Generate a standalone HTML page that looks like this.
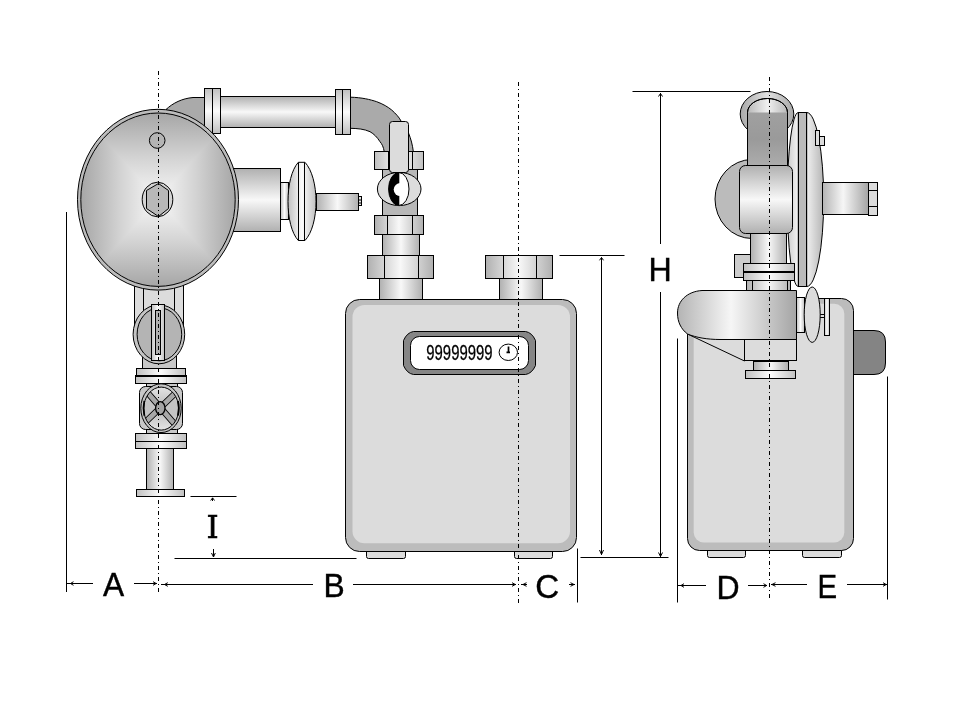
<!DOCTYPE html>
<html>
<head>
<meta charset="utf-8">
<title>Gas meter dimensions</title>
<style>
html,body{margin:0;padding:0;background:#fff;}
body{width:960px;height:720px;overflow:hidden;position:relative;}
svg{display:block;position:absolute;left:0;top:0;will-change:transform;}
.l{stroke:#000;stroke-width:1;fill:none;}
.s{stroke:#000;stroke-width:1;}
.k{stroke:#000;stroke-width:1.8;fill:none;}
.cl{stroke:#000;stroke-width:1;fill:none;stroke-dasharray:4 3 1 3;}
.ar{stroke:#000;stroke-width:1;fill:none;}
.t{font-family:"Liberation Sans",sans-serif;font-size:32px;fill:#000;stroke:#000;stroke-width:0.4px;}
.ti{font-family:"DejaVu Serif","Liberation Serif",serif;font-size:30.8px;fill:#000;stroke:#000;stroke-width:0.6px;}
.tn{font-family:"Liberation Sans",sans-serif;font-size:22.3px;fill:#000;stroke:#000;stroke-width:0.3px;}
</style>
</head>
<body>
<svg width="960" height="720" viewBox="0 0 960 720">
<defs>
<!-- horizontal pipe (gradient runs vertically) -->
<linearGradient id="gh" x1="0" y1="0" x2="0" y2="1">
<stop offset="0" stop-color="#b0b0b0"/><stop offset="0.5" stop-color="#f8f8f8"/><stop offset="1" stop-color="#b0b0b0"/>
</linearGradient>
<!-- vertical pipe (gradient runs horizontally) -->
<linearGradient id="gv" x1="0" y1="0" x2="1" y2="0">
<stop offset="0" stop-color="#b0b0b0"/><stop offset="0.5" stop-color="#f8f8f8"/><stop offset="1" stop-color="#b0b0b0"/>
</linearGradient>
<!-- lighter flange gradients -->
<linearGradient id="fh" x1="0" y1="0" x2="0" y2="1">
<stop offset="0" stop-color="#c0c0c0"/><stop offset="0.5" stop-color="#fcfcfc"/><stop offset="1" stop-color="#c0c0c0"/>
</linearGradient>
<linearGradient id="fv" x1="0" y1="0" x2="1" y2="0">
<stop offset="0" stop-color="#c0c0c0"/><stop offset="0.5" stop-color="#fcfcfc"/><stop offset="1" stop-color="#c0c0c0"/>
</linearGradient>
<!-- side-view horizontal pipe -->
<linearGradient id="gv2" x1="0" y1="0" x2="1" y2="0">
<stop offset="0" stop-color="#b4b4b4"/><stop offset="0.45" stop-color="#f6f6f6"/><stop offset="1" stop-color="#a4a4a4"/>
</linearGradient>
<!-- dark elbow pipe in side view -->
<linearGradient id="gd" x1="0" y1="0" x2="0" y2="1">
<stop offset="0" stop-color="#a0a0a0"/><stop offset="0.5" stop-color="#9a9a9a"/><stop offset="1" stop-color="#acacac"/>
</linearGradient>
<linearGradient id="gcap" x1="0" y1="0" x2="1" y2="0">
<stop offset="0" stop-color="#b8b8b8"/><stop offset="0.5" stop-color="#f0f0f0"/><stop offset="1" stop-color="#b8b8b8"/>
</linearGradient>
<linearGradient id="gring" x1="0" y1="0" x2="1" y2="0">
<stop offset="0" stop-color="#a8a8a8"/><stop offset="0.5" stop-color="#e2e2e2"/><stop offset="1" stop-color="#a8a8a8"/>
</linearGradient>
<linearGradient id="gdiscl" x1="0" y1="0" x2="1" y2="0">
<stop offset="0" stop-color="#cccccc"/><stop offset="1" stop-color="#f4f4f4"/>
</linearGradient>
<linearGradient id="gdisc" x1="0" y1="0" x2="1" y2="0">
<stop offset="0" stop-color="#f0f0f0"/><stop offset="1" stop-color="#b4b4b4"/>
</linearGradient>
<linearGradient id="rV" x1="0" y1="0" x2="0" y2="1"><stop offset="0" stop-color="#a6a6a6"/><stop offset="0.25" stop-color="#d2d2d2"/><stop offset="0.5" stop-color="#f8f8f8"/><stop offset="0.75" stop-color="#d2d2d2"/><stop offset="1" stop-color="#a6a6a6"/></linearGradient>
<linearGradient id="rH" gradientUnits="userSpaceOnUse" x1="80.800" y1="0" x2="235.200" y2="0"><stop offset="0" stop-color="#a6a6a6"/><stop offset="0.25" stop-color="#d2d2d2"/><stop offset="0.5" stop-color="#f8f8f8"/><stop offset="0.75" stop-color="#d2d2d2"/><stop offset="1" stop-color="#a6a6a6"/></linearGradient>
<linearGradient id="gsec" x1="0" y1="0" x2="0" y2="1"><stop offset="0" stop-color="#e4e4e4"/><stop offset="0.5" stop-color="#b8b8b8"/><stop offset="1" stop-color="#e4e4e4"/></linearGradient>
<clipPath id="regclip"><ellipse cx="158" cy="199.700" rx="77.200" ry="86.700"/></clipPath>
<clipPath id="wheelclip"><ellipse cx="161.200" cy="408.600" rx="17.500" ry="21.500"/></clipPath>
<clipPath id="ballclip"><ellipse cx="398.800" cy="189" rx="10.200" ry="16.500"/></clipPath>
</defs>

<!-- ================= FRONT VIEW ================= -->
<g id="front">
<!-- top-left elbow -->
<path class="s" fill="#aaa" d="M205 97.500 L193 97.500 C182 98.500 173 103 166 109.500 L215 150 L205 128 Z"/>
<!-- top-right elbow -->
<path class="s" fill="#aaa" d="M350.500 97.200 C362 97.500 370 99.500 376.700 101.700 C383 104 388 107 391.700 110 C396 114 399 117 401 121 L408.500 133 C411 139 412.500 145 413.300 151.500 L384.200 151.500 C383.500 147 382 144 380 141.700 C377 137 374 134 370 131.700 C364 129 358 128.500 350.500 128.300 Z"/>
<!-- top horizontal pipe -->
<rect class="s" fill="url(#gh)" x="220.5" y="96.5" width="115" height="31"/>
<rect class="s" fill="url(#fh)" x="204.5" y="88.5" width="16" height="45"/>
<line class="l" x1="212.5" y1="88.5" x2="212.5" y2="133.5"/>
<rect class="s" fill="url(#fh)" x="335.5" y="89.5" width="15" height="45"/>
<line class="l" x1="342.5" y1="89.5" x2="342.5" y2="134.5"/>

<!-- right block of regulator -->
<rect class="s" fill="url(#gh)" x="230.5" y="168.5" width="50" height="63"/>
<rect class="s" fill="url(#fv)" x="280.5" y="182.5" width="8" height="37"/>
<rect class="s" fill="url(#gv)" x="316.5" y="193.5" width="42" height="17"/>
<rect class="s" fill="#e4e4e4" x="358.5" y="196.5" width="3" height="9"/>
<path class="l" d="M358.700 200 H361.700 M358.700 203 H361.700"/>
<path class="s" fill="url(#fv)" d="M298.300 162.300 L305 162.300 C312 170 316 185 316 201.500 C316 218 312 233 305 240.500 L298.300 240.500 C291.500 233 288 218 288 201.500 C288 185 291.500 170 298.300 162.300 Z"/>
<line class="l" x1="298.5" y1="162.5" x2="298.5" y2="240.5"/>
<line class="l" x1="304.5" y1="162.5" x2="304.5" y2="240.5"/>

<!-- neck below regulator -->
<rect class="s" fill="#dcdcdc" x="134.5" y="280.5" width="49" height="46"/>
<line class="l" x1="143.5" y1="280.5" x2="143.5" y2="320.5"/>
<line class="l" x1="174.5" y1="280.5" x2="174.5" y2="320.5"/>
<rect class="s" fill="#c8c8c8" x="142.5" y="350.5" width="34" height="18"/>

<!-- regulator -->
<ellipse class="s" fill="#bcbcbc" cx="158" cy="199.700" rx="80.500" ry="90.400"/>
<g clip-path="url(#regclip)">
<rect fill="url(#rV)" x="80.800" y="113" width="154.400" height="173.400"/>
<polygon fill="url(#rH)" points="158,199.700 80.800,113 80.800,286.400"/>
<polygon fill="url(#rH)" points="158,199.700 235.200,113 235.200,286.400"/>
</g>
<ellipse class="l" cx="158" cy="199.700" rx="77.200" ry="86.700"/>
<circle class="s" fill="#b4b4b4" cx="157.200" cy="140.500" r="7.800"/>
<ellipse class="s" fill="#d4d4d4" cx="157.500" cy="199.500" rx="15.300" ry="17.300"/>
<polygon class="s" fill="#b8b8b8" points="158.500,183.500 168.500,190.500 168.500,208.500 158.500,216.500 146.500,208.500 146.500,190.500"/>

<!-- valve 1 (ellipse with handle) -->
<ellipse class="s" fill="#c4c4c4" cx="158.900" cy="334.300" rx="25.800" ry="29.500"/>
<ellipse class="s" fill="#b4b4b4" cx="159.400" cy="334.300" rx="22.300" ry="26.500"/>
<rect class="s" fill="url(#fv)" x="151.5" y="304.5" width="13" height="56"/>
<rect class="s" fill="#b0b0b0" x="155.5" y="310.5" width="5" height="44"/>

<!-- flanges -->
<rect class="s" fill="url(#fv)" x="136.5" y="368.5" width="49" height="7"/>
<rect class="s" fill="url(#fv)" x="135.5" y="375.5" width="51" height="8"/>
<line class="k" x1="135.5" y1="376" x2="186.5" y2="376"/>
<!-- valve 2 wheel -->
<rect class="s" fill="#c8c8c8" x="146.5" y="383.5" width="31" height="50"/>
<rect class="s" fill="#c8c8c8" x="139.5" y="386.5" width="43" height="43" rx="6"/>
<ellipse class="s" fill="#c4c4c4" cx="161" cy="408.200" rx="20.200" ry="24.400"/>
<ellipse fill="url(#gsec)" cx="161.200" cy="408.600" rx="17.500" ry="21.500"/>
<g clip-path="url(#wheelclip)">
<polygon fill="#c4c4c4" points="160.500,408.300 140,396 140,421"/>
<polygon fill="#c4c4c4" points="160.500,408.300 182,396 182,421"/>
<path d="M147 392 L175 424.500 M175.500 393 L145.500 422" stroke="#000" stroke-width="6.500" fill="none"/>
<path d="M147 392 L175 424.500 M175.500 393 L145.500 422" stroke="#a8a8a8" stroke-width="4.600" fill="none"/>
</g>
<ellipse class="l" cx="161.200" cy="408.600" rx="17.500" ry="21.500"/>
<path class="k" d="M144.300 401 C143.400 405 143.400 411 144.300 415.500 M178 401 C179 405 179 411 178 415.500"/>
<ellipse cx="160.300" cy="408.100" rx="4.700" ry="6.500" fill="#a4a4a4" stroke="#000" stroke-width="1.300"/>
<rect class="s" fill="url(#fv)" x="135.5" y="433.5" width="51" height="8"/>
<rect class="s" fill="url(#fv)" x="135.5" y="441.5" width="51" height="7"/>
<rect class="s" fill="url(#gv)" x="146.5" y="448.5" width="27" height="41"/>
<rect class="s" fill="url(#fv)" x="136.5" y="489.5" width="48" height="7"/>

<!-- ball valve on right -->
<rect class="s" fill="#b8b8b8" x="382.5" y="160.5" width="35" height="55"/>
<rect class="s" fill="url(#fv)" x="374.5" y="151.5" width="49" height="18"/>
<line class="l" x1="388.5" y1="151.5" x2="388.5" y2="169.5"/>
<line class="l" x1="412.5" y1="151.5" x2="412.5" y2="169.5"/>
<ellipse class="s" fill="#dcdcdc" cx="399.200" cy="189" rx="21.800" ry="16.600"/>
<g clip-path="url(#ballclip)">
<rect x="388" y="172" width="22" height="34" fill="#fff"/>
<rect x="388" y="172" width="11.300" height="34" fill="#000"/>
<ellipse cx="400.500" cy="189.600" rx="6.800" ry="6.500" fill="#fff"/>
</g>
<ellipse class="l" cx="398.800" cy="189" rx="10.200" ry="16.500"/>
<rect class="s" fill="#dcdcdc" x="389.5" y="121.5" width="19" height="51" rx="3"/>
<rect class="s" fill="url(#gv)" x="374.5" y="215.5" width="49" height="19"/>
<line class="l" x1="387.5" y1="215.5" x2="387.5" y2="234.5"/>
<line class="l" x1="412.5" y1="215.5" x2="412.5" y2="234.5"/>
<rect class="s" fill="url(#gv)" x="382.5" y="234.5" width="37" height="21"/>
<rect class="s" fill="url(#gv)" x="379.5" y="278.5" width="43" height="21"/>
<rect class="s" fill="url(#gv)" x="367.5" y="255.5" width="66" height="23"/>
<line class="l" x1="384.5" y1="255.5" x2="384.5" y2="278.5"/>
<line class="l" x1="418.5" y1="255.5" x2="418.5" y2="278.5"/>
<rect class="s" fill="url(#gv)" x="499.5" y="278.5" width="43" height="21"/>
<rect class="s" fill="url(#gv)" x="485.5" y="255.5" width="67" height="23"/>
<line class="l" x1="503.5" y1="255.5" x2="503.5" y2="278.5"/>
<line class="l" x1="536.5" y1="255.5" x2="536.5" y2="278.5"/>

<!-- meter body -->
<rect class="s" fill="#dcdcdc" x="366.5" y="548.5" width="39" height="10" rx="2"/>
<rect class="s" fill="#dcdcdc" x="514.5" y="548.5" width="38" height="10" rx="2"/>
<rect class="s" fill="#bcbcbc" x="345.5" y="299.5" width="231" height="252" rx="14"/>
<rect fill="#dcdcdc" x="352.500" y="305" width="217.500" height="238.300" rx="12"/>
<path class="s" fill="#868686" d="M413.500 331.500 H525.500 Q532 332.500 535.500 340.500 V365.500 Q532 373.500 525.500 374.500 H413.500 Q407 373.500 403.500 365.500 V340.500 Q407 332.500 413.500 331.500 Z"/>
<rect class="s" fill="#fff" x="410.5" y="336.5" width="118" height="33" rx="9"/>
<text class="tn" x="426.300" y="359.600" textLength="66.300" lengthAdjust="spacingAndGlyphs">99999999</text>
<ellipse class="s" fill="#fff" cx="508.300" cy="352.300" rx="9.200" ry="8.200"/>
<path d="M508.500 353 L508.500 346.500 M506.500 352.300 L510 352.300" stroke="#000" stroke-width="1.700" fill="none"/>
</g>

<!-- ================= SIDE VIEW ================= -->
<g id="side">
<!-- left bulge -->
<ellipse class="s" fill="#bbb" cx="752" cy="199" rx="37" ry="39.500"/>
<!-- top pipe elbow end -->
<ellipse class="s" fill="url(#gring)" cx="767" cy="114" rx="26.800" ry="22.500"/>
<!-- disc -->
<path class="s" fill="url(#gdiscl)" d="M798.300 112.500 A11 87 0 0 0 798.300 286.500 Z"/>
<path class="s" fill="url(#gdisc)" d="M806.700 112.500 A17 87 0 0 1 806.700 286.500 Z"/>
<rect class="s" fill="#bbb" x="798.5" y="112.5" width="8" height="174"/>
<rect class="s" fill="#dcdcdc" x="815.5" y="130.5" width="4" height="15"/>
<rect class="s" fill="#dcdcdc" x="819.5" y="136.5" width="5" height="9"/>
<path class="s" fill="url(#gcap)" d="M747.500 165.500 V112.500 A20 14 0 0 1 787.500 112.500 V165.500 Z"/>
<rect fill="url(#gd)" x="748" y="112.500" width="39" height="53"/>
<path class="l" d="M747.500 165.500 V112.500 A20 14 0 0 1 787.500 112.500 V165.500 Z"/>
<!-- body -->
<rect class="s" fill="url(#gh)" x="739.5" y="165.5" width="53" height="68" rx="6"/>
<!-- shaft -->
<rect class="s" fill="url(#gv2)" x="822.5" y="182.5" width="46" height="32"/>
<rect class="s" fill="#dcdcdc" x="868.5" y="182.5" width="9" height="33"/>
<line class="l" x1="868.5" y1="190.5" x2="877.5" y2="190.5"/>
<line class="l" x1="868.5" y1="206.5" x2="877.5" y2="206.5"/>
<!-- pipe below -->
<rect class="s" fill="#ccc" x="734.5" y="254.5" width="16" height="23"/>
<rect class="s" fill="url(#gv)" x="750.5" y="233.5" width="36" height="30"/>
<rect class="s" fill="url(#gv)" x="746.5" y="280.5" width="44" height="10"/>
<path class="l" d="M752.500 280.700 V290.700 M787.500 280.700 V290.700"/>
<rect class="s" fill="url(#fv)" x="743.5" y="263.5" width="51" height="17"/>
<line class="k" x1="743.5" y1="272" x2="794.5" y2="272"/>

<!-- meter side body -->
<path class="s" fill="#848484" d="M853.500 330.500 H874 Q885.500 330.500 885.500 342 V363 Q885.500 374.500 874 374.500 H853.500 Z"/>
<rect class="s" fill="#dcdcdc" x="707.5" y="546.5" width="38" height="11" rx="2"/>
<rect class="s" fill="#dcdcdc" x="802.5" y="546.5" width="39" height="11" rx="2"/>
<rect class="s" fill="#bcbcbc" x="687.5" y="298.5" width="166" height="252" rx="12"/>
<rect fill="#dcdcdc" x="693.700" y="303.800" width="150.600" height="238.700" rx="10"/>
<!-- block under pipe -->
<path class="s" fill="#dcdcdc" d="M687.500 334 L744.500 361 L744.500 339.500 Z"/>
<rect class="s" fill="#dcdcdc" x="744.5" y="339.5" width="52" height="21"/>
<rect class="s" fill="url(#gv)" x="753.5" y="360.5" width="35" height="10"/>
<line class="k" x1="753.5" y1="361" x2="788.5" y2="361"/>
<rect class="s" fill="url(#fv)" x="745.5" y="370.5" width="50" height="8"/>
<!-- horizontal pipe side -->
<path class="s" fill="url(#gv2)" d="M796.500 290.500 L702 290.500 C687 291.500 677.500 301 677.500 313 C677.500 322 681 329 687.500 334 C696 337.500 707 339.500 720 339.500 L796.500 339.500 Z"/>
<!-- knob -->
<rect class="s" fill="url(#fv)" x="796.5" y="297.5" width="8" height="35"/>
<rect class="s" fill="#dcdcdc" x="819.5" y="314.5" width="5" height="3"/>
<rect class="s" fill="url(#fv)" x="824.5" y="298.5" width="5" height="37"/>
<ellipse class="s" fill="#dcdcdc" cx="812.200" cy="314.700" rx="8" ry="27.700"/>
</g>

<!-- ================= DIMENSIONS ================= -->
<g id="dims">
<line class="cl" x1="158.5" y1="71" x2="158.5" y2="593.5"/>
<line class="cl" x1="518.5" y1="82" x2="518.5" y2="604.5"/>
<line class="cl" x1="769.5" y1="77" x2="769.5" y2="600"/>

<line class="l" x1="66.5" y1="212" x2="66.5" y2="592"/>
<line class="l" x1="577.5" y1="548.5" x2="577.5" y2="602.5"/>
<line class="l" x1="677.5" y1="338.5" x2="677.5" y2="602.5"/>
<line class="l" x1="887.5" y1="376.5" x2="887.5" y2="599.5"/>

<line class="l" x1="190.5" y1="496.5" x2="236.5" y2="496.5"/>
<line class="l" x1="174.5" y1="558.5" x2="356.5" y2="558.5"/>
<line class="l" x1="580.5" y1="557.5" x2="668.5" y2="557.5"/>
<line class="l" x1="559.5" y1="255.5" x2="624.5" y2="255.5"/>
<line class="l" x1="632.5" y1="91.5" x2="750.5" y2="91.5"/>

<!-- A -->
<path class="l" d="M67 583.500 H93 M134 583.500 H157"/>
<path class="ar" d="M73.500 581.700 L70.500 583.500 L73.500 585.300 M153 581.700 L156.200 583.500 L153 585.300"/>
<!-- B -->
<path class="l" d="M161 584.500 H313 M353 584.500 H516"/>
<path class="ar" d="M167.800 582.700 L164.500 584.500 L167.800 586.300 M512 582.700 L515.300 584.500 L512 586.300"/>
<!-- C -->
<path class="l" d="M521 584.500 H527 M569 584.500 H575"/>
<path class="ar" d="M526.500 582.700 L523 584.500 L526.500 586.300 M570.500 582.700 L574 584.500 L570.500 586.300"/>
<!-- D -->
<path class="l" d="M678 585.500 H706 M748 585.500 H767"/>
<path class="ar" d="M684 583.700 L681 585.500 L684 587.300 M763.500 583.700 L766.700 585.500 L763.500 587.300"/>
<!-- E -->
<path class="l" d="M771 584.500 H807 M847 584.500 H887"/>
<path class="ar" d="M775.500 582.700 L772 584.500 L775.500 586.300 M883 582.700 L886.200 584.500 L883 586.300"/>
<!-- H -->
<path class="l" d="M660.500 93 V244 M660.500 292 V557"/>
<path class="ar" d="M658.500 96.500 L660.500 93.500 L662.500 96.500 M658.500 552.500 L660.500 556.500 L662.500 552.500" stroke-width="1.200"/>
<!-- meter height -->
<path class="l" d="M601.500 257.500 V555"/>
<path class="ar" d="M599.500 260.300 L601.500 257.500 L603.500 260.300 M599.500 550 L601.500 554.500 L603.500 550" stroke-width="1.200"/>
<!-- I -->
<path class="l" d="M212.500 498 V501 M213.500 549 V557"/>
<path class="ar" d="M210.700 500.500 L212.600 497.800 L214.500 500.500 M211.500 553 L213.500 557 L215.300 553" stroke-width="1.200"/>

<text class="t" transform="translate(102.90 596.00) scale(0.9906 1.0455)">A</text>
<text class="t" transform="translate(323.41 597.00) scale(0.9943 1.0455)">B</text>
<text class="t" transform="translate(535.34 597.70) scale(1.0344 1.0132)">C</text>
<text class="t" transform="translate(716.40 599.00) scale(1.0001 1.0455)">D</text>
<text class="t" transform="translate(817.61 598.00) scale(0.9196 1.0455)">E</text>
<text class="t" transform="translate(648.38 281.00) scale(1.0057 1.0455)">H</text>
<text class="ti" x="206.570" y="537.700">I</text>
</g>
</svg>
</body>
</html>
